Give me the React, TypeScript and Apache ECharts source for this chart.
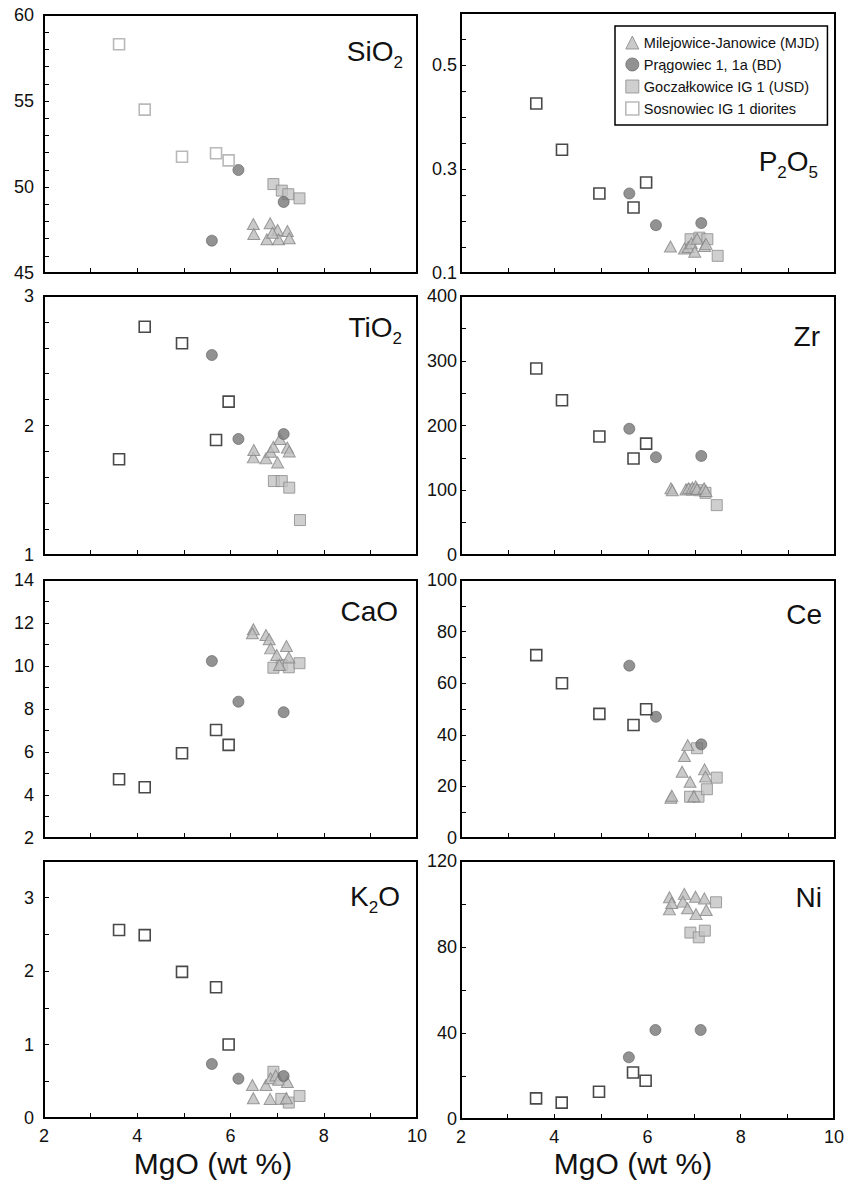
import React, { useEffect, useRef } from 'react';
import * as echarts from 'echarts';

const W = 847;
const H = 1182;
const FONT = '"Liberation Sans", Arial, sans-serif';

// ---------- DATA ----------
const GROUPS = [
  'Milejowice-Janowice (MJD)',
  'Prągowiec 1, 1a (BD)',
  'Goczałkowice IG 1 (USD)',
  'Sosnowiec IG 1 diorites',
];

const MGO_TICKS = [2, 4, 6, 8, 10];

// MgO of the Sosnowiec and Prągowiec samples (same in every panel)
const SOS_MGO = [3.61, 4.16, 4.96, 5.69, 5.96];
const PRA_MGO = [5.6, 6.17, 7.14];

// SiO2
const SIO2_SOS = [58.3, 54.5, 51.76, 51.96, 51.55];
const SIO2_PRA = [46.88, 50.99, 49.13];
const SIO2_GOC = [[6.92, 50.17], [7.1, 49.79], [7.24, 49.58], [7.48, 49.34]];
const SIO2_MJD = [[6.49, 47.85], [6.5, 47.27], [6.85, 47.89], [6.78, 46.96], [7.01, 47.5], [7.03, 46.96], [7.22, 47.44], [7.26, 47.02], [6.9, 47.34]];

// P2O5
const P2O5_SOS = [0.426, 0.337, 0.253, 0.226, 0.274];
const P2O5_PRA = [0.253, 0.192, 0.196];
const P2O5_GOC = [[6.91, 0.165], [7.1, 0.168], [7.27, 0.165], [7.49, 0.133]];
const P2O5_MJD = [[6.48, 0.151], [6.78, 0.147], [6.86, 0.15], [6.93, 0.157], [7.0, 0.141], [7.05, 0.166], [7.21, 0.152], [7.24, 0.156]];

// TiO2
const TIO2_SOS = [1.739, 2.763, 2.635, 1.888, 2.184];
const TIO2_PRA = [2.544, 1.896, 1.934];
const TIO2_GOC = [[6.93, 1.571], [7.1, 1.571], [7.26, 1.52], [7.49, 1.27]];
const TIO2_MJD = [[6.49, 1.754], [6.5, 1.811], [6.76, 1.746], [6.86, 1.797], [6.92, 1.836], [7.01, 1.715], [7.06, 1.896], [7.22, 1.829], [7.26, 1.8]];

// Zr
const ZR_SOS = [288, 239, 183, 149, 172];
const ZR_PRA = [195, 151, 153];
const ZR_GOC = [[6.93, 101], [7.1, 100], [7.23, 96], [7.47, 77]];
const ZR_MJD = [[6.49, 103], [6.52, 100], [6.81, 101], [6.87, 103], [6.95, 104], [7.02, 106], [7.05, 102], [7.2, 103], [7.24, 99]];

// CaO
const CAO_SOS = [4.73, 4.36, 5.94, 7.02, 6.33];
const CAO_PRA = [10.23, 8.34, 7.85];
const CAO_GOC = [[6.92, 9.92], [7.1, 10.05], [7.25, 9.94], [7.48, 10.13]];
const CAO_MJD = [[6.49, 11.71], [6.47, 11.52], [6.76, 11.44], [6.83, 11.24], [6.86, 10.82], [6.99, 10.51], [7.05, 10.05], [7.2, 10.93], [7.25, 10.4]];

// Ce
const CE_SOS = [70.9, 60.0, 48.1, 43.8, 49.9];
const CE_PRA = [66.8, 47.0, 36.3];
const CE_GOC = [[6.9, 16.0], [7.05, 34.8], [7.08, 16.0], [7.26, 18.9], [7.47, 23.4]];
const CE_MJD = [[6.49, 15.6], [6.51, 16.4], [6.73, 25.7], [6.78, 31.8], [6.85, 36.0], [6.9, 21.8], [6.98, 16.2], [7.21, 26.6], [7.23, 23.8]];

// K2O
const K2O_SOS = [2.56, 2.49, 1.99, 1.78, 1.0];
const K2O_PRA = [0.736, 0.536, 0.572];
const K2O_GOC = [[6.92, 0.63], [7.09, 0.26], [7.25, 0.21], [7.48, 0.3]];
const K2O_MJD = [[6.47, 0.45], [6.49, 0.27], [6.76, 0.45], [6.85, 0.26], [6.86, 0.54], [6.97, 0.58], [7.03, 0.52], [7.22, 0.49], [7.2, 0.27]];

// Ni
const NI_SOS = [9.6, 7.6, 12.7, 21.6, 17.8];
const NI_PRA = [28.7, 41.4, 41.4];
const NI_GOC = [[6.92, 86.7], [7.1, 84.5], [7.23, 87.6], [7.47, 100.8]];
const NI_MJD = [[6.47, 103.1], [6.47, 97.5], [6.52, 100.5], [6.79, 104.7], [6.76, 101.1], [6.86, 98.0], [7.03, 103.4], [7.04, 95.3], [7.22, 102.6], [7.26, 97.2]];

// Panel titles (rich text: m = main, s = subscript)
const TITLES = [
  '{m|SiO}{s|2}',
  '{m|P}{s|2}{m|O}{s|5}',
  '{m|TiO}{s|2}',
  '{m|Zr}',
  '{m|CaO}',
  '{m|Ce}',
  '{m|K}{s|2}{m|O}',
  '{m|Ni}',
];

// Y axis scales
const Y_MIN = [45, 0.1, 1, 0, 2, 0, 0, 0];
const Y_MAX = [60, 0.6, 3, 400, 14, 100, 3.5, 120];
const Y_TICK = [1, 0.05, 0.2, 50, 1, 10, 0.5, 20];
const Y_LABEL_STEP = [5, 0.2, 1, 100, 2, 20, 1, 40];

const PANEL_DATA = [
  { sos: SIO2_SOS, pra: SIO2_PRA, goc: SIO2_GOC, mjd: SIO2_MJD },
  { sos: P2O5_SOS, pra: P2O5_PRA, goc: P2O5_GOC, mjd: P2O5_MJD },
  { sos: TIO2_SOS, pra: TIO2_PRA, goc: TIO2_GOC, mjd: TIO2_MJD },
  { sos: ZR_SOS, pra: ZR_PRA, goc: ZR_GOC, mjd: ZR_MJD },
  { sos: CAO_SOS, pra: CAO_PRA, goc: CAO_GOC, mjd: CAO_MJD },
  { sos: CE_SOS, pra: CE_PRA, goc: CE_GOC, mjd: CE_MJD },
  { sos: K2O_SOS, pra: K2O_PRA, goc: K2O_GOC, mjd: K2O_MJD },
  { sos: NI_SOS, pra: NI_PRA, goc: NI_GOC, mjd: NI_MJD },
];

// ---------- LAYOUT ----------
const GRIDS = [
  { left: 44, top: 15, width: 373, height: 258 },
  { left: 461, top: 13, width: 374, height: 260 },
  { left: 44, top: 296, width: 373, height: 259 },
  { left: 461, top: 296, width: 374, height: 259 },
  { left: 44, top: 580, width: 373, height: 258 },
  { left: 461, top: 580, width: 374, height: 258 },
  { left: 44, top: 861, width: 373, height: 257 },
  { left: 461, top: 861, width: 374, height: 258 },
];
const TITLE_POS = [
  [403, 37], [818, 147], [402, 313], [820, 322],
  [398, 597], [822, 600], [400, 882], [822, 883],
];

const STYLE_MJD = { color: '#bdbdbd', borderColor: '#858585', borderWidth: 1 };
const STYLE_PRA = { color: '#777777', borderColor: '#5e5e5e', borderWidth: 0.8 };
const STYLE_GOC = { color: '#c3c3c3', borderColor: '#8c8c8c', borderWidth: 1 };
const STYLE_SOS = { color: '#ffffff', borderColor: '#1c1c1c', borderWidth: 1.6 };
const STYLE_SOS_LIGHT = { color: '#ffffff', borderColor: '#a8a8a8', borderWidth: 1.6 };

function nearMultiple(v: number, base: number, step: number) {
  const k = (v - base) / step;
  return Math.abs(k - Math.round(k)) < 1e-6;
}

function buildOption() {
  const grid = GRIDS.map((g) => ({
    ...g,
    show: true,
    borderColor: '#000',
    borderWidth: 2,
    backgroundColor: 'transparent',
  }));

  const xAxis = GRIDS.map((_, i) => {
    const bottom = i >= 6;
    return {
      type: 'value',
      gridIndex: i,
      min: 2,
      max: 10,
      interval: 1,
      axisLine: { show: true, onZero: false, lineStyle: { color: '#000', width: 2 } },
      axisTick: { show: true, inside: true, length: 5, lineStyle: { color: '#000', width: 1 } },
      splitLine: { show: false },
      axisLabel: {
        show: bottom,
        margin: 9,
        fontSize: 18,
        fontFamily: FONT,
        color: '#111',
        formatter: (v: number) => (MGO_TICKS.includes(v) ? String(v) : ''),
      },
    };
  });

  const yAxis = GRIDS.map((_, i) => ({
    type: 'value',
    gridIndex: i,
    min: Y_MIN[i],
    max: Y_MAX[i],
    interval: Y_TICK[i],
    axisLine: { show: true, onZero: false, lineStyle: { color: '#000', width: 2 } },
    axisTick: { show: true, inside: true, length: 5, lineStyle: { color: '#000', width: 1 } },
    splitLine: { show: false },
    axisLabel: {
      margin: i % 2 === 0 ? 10 : 4,
      fontSize: 18,
      fontFamily: FONT,
      color: '#111',
      formatter: (v: number) =>
        nearMultiple(v, Y_MIN[i], Y_LABEL_STEP[i]) ? String(+v.toFixed(2)) : '',
    },
  }));

  const series: any[] = [];
  PANEL_DATA.forEach((p, i) => {
    const common = { type: 'scatter', xAxisIndex: i, yAxisIndex: i, silent: true, animation: false };
    series.push({
      ...common,
      name: GROUPS[2],
      symbol: 'rect',
      symbolSize: 11,
      itemStyle: STYLE_GOC,
      data: p.goc,
    });
    series.push({
      ...common,
      name: GROUPS[0],
      symbol: 'triangle',
      symbolSize: [12, 11],
      itemStyle: STYLE_MJD,
      data: p.mjd,
    });
    series.push({
      ...common,
      name: GROUPS[1],
      symbol: 'circle',
      symbolSize: 11,
      itemStyle: STYLE_PRA,
      data: PRA_MGO.map((x, j) => [x, p.pra[j]]),
    });
    series.push({
      ...common,
      name: GROUPS[3],
      symbol: 'rect',
      symbolSize: 11,
      itemStyle: i === 0 ? STYLE_SOS_LIGHT : STYLE_SOS,
      data: SOS_MGO.map((x, j) => [x, p.sos[j]]),
    });
  });

  const titleGraphics = TITLES.map((t, i) => ({
    type: 'text',
    x: TITLE_POS[i][0],
    y: TITLE_POS[i][1],
    silent: true,
    style: {
      text: t,
      align: 'right',
      verticalAlign: 'top',
      fill: '#111',
      rich: {
        m: { fontSize: 28, lineHeight: 30, fontFamily: FONT, color: '#111', verticalAlign: 'top' },
        s: { fontSize: 17, lineHeight: 17, fontFamily: FONT, color: '#111', verticalAlign: 'top', padding: [17, 0, 0, 0] },
      },
    },
  }));

  const axisNames = [213, 633].map((cx) => ({
    type: 'text',
    x: cx,
    y: 1163,
    silent: true,
    style: {
      text: 'MgO (wt %)',
      align: 'center',
      verticalAlign: 'middle',
      fontSize: 30,
      fontFamily: FONT,
      fill: '#111',
    },
  }));

  return {
    animation: false,
    backgroundColor: '#fff',
    grid,
    xAxis,
    yAxis,
    legend: {
      show: true,
      orient: 'vertical',
      left: 615,
      top: 26,
      selectedMode: false,
      padding: [9, 8, 9, 10],
      itemGap: 7,
      itemWidth: 13,
      itemHeight: 13,
      borderColor: '#000',
      borderWidth: 1.5,
      backgroundColor: '#fff',
      textStyle: { fontSize: 14.5, fontFamily: FONT, color: '#111' },
      data: [
        { name: GROUPS[0], icon: 'triangle', itemStyle: STYLE_MJD },
        { name: GROUPS[1], icon: 'circle', itemStyle: STYLE_PRA },
        { name: GROUPS[2], icon: 'rect', itemStyle: STYLE_GOC },
        { name: GROUPS[3], icon: 'rect', itemStyle: STYLE_SOS_LIGHT },
      ],
    },
    graphic: [...titleGraphics, ...axisNames],
    series,
  };
}

export default function App() {
  const ref = useRef<HTMLDivElement>(null);
  useEffect(() => {
    if (!ref.current) return;
    const chart = echarts.init(ref.current, null, { renderer: 'svg' });
    chart.setOption(buildOption() as any);
    return () => chart.dispose();
  }, []);
  return (
    <div
      ref={ref}
      style={{ position: 'absolute', left: 0, top: 0, width: W, height: H, background: '#fff' }}
    />
  );
}
